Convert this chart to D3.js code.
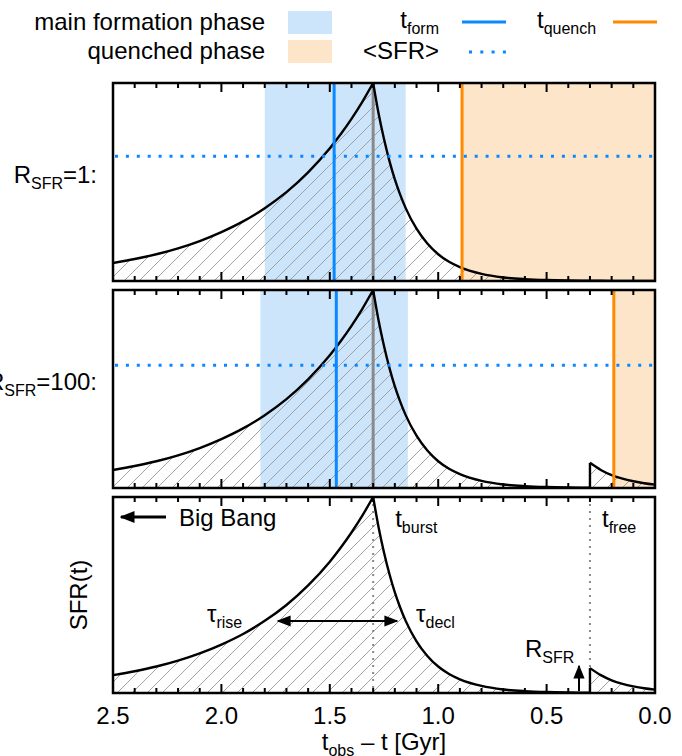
<!DOCTYPE html>
<html>
<head>
<meta charset="utf-8">
<script src="https://cdn.jsdelivr.net/npm/d3@7"></script>
<style>
  html, body { margin: 0; padding: 0; background: #fff; }
  svg { display: block; font-family: "Liberation Sans", Arial, Helvetica, sans-serif; }
</style>
</head>
<body>
<svg id="chart" width="682" height="756"></svg>
<script>
// ---------------- data ----------------
// x axis: lookback time t_obs - t [Gyr], reversed
const xTicksMajor = [2.5, 2.0, 1.5, 1.0, 0.5, 0.0];
const xTickLabels = ["2.5", "2.0", "1.5", "1.0", "0.5", "0.0"];
const xTicksMinor = d3.range(0, 26).map(i => +(i * 0.1).toFixed(1));

// burst epoch and tfree
const tBurst = 1.3;
const tFree = 0.3;

// rising part of SFR(t) (normalised to peak = 1)
const riseLookback = [2.5, 2.4, 2.3, 2.2, 2.1, 2.0, 1.9, 1.8, 1.7, 1.6, 1.5, 1.45, 1.4, 1.35, 1.3];
const riseSFR      = [0.091, 0.111, 0.135, 0.165, 0.202, 0.247, 0.301, 0.368, 0.449, 0.549, 0.670, 0.741, 0.819, 0.905, 1.0];

// declining part of SFR(t)
const declLookback = [1.3, 1.275, 1.25, 1.225, 1.2, 1.175, 1.15, 1.1, 1.05, 1.0, 0.95, 0.9, 0.8, 0.7, 0.6, 0.5, 0.4, 0.3, 0.2, 0.1, 0.0];
const declSFR      = [1.0, 0.846, 0.717, 0.607, 0.513, 0.435, 0.368, 0.264, 0.189, 0.135, 0.097, 0.070, 0.036, 0.018, 0.0094, 0.0048, 0.0025, 0.0013, 0.0007, 0.0003, 0.0002];

// renewed star formation after tfree (R_SFR = 100)
const freeLookback = [0.3, 0.25, 0.2, 0.15, 0.1, 0.05, 0.0];
const freeSFR      = [0.127, 0.091, 0.065, 0.047, 0.034, 0.024, 0.017];

// per-panel quantities
const panelLabels  = ["1", "100"];
const panelRsfr    = [1, 100, 100];
const tForm        = [1.48, 1.47];
const mainPhase    = [[1.80, 1.15], [1.82, 1.14]];
const tQuench      = [0.89, 0.19];
const meanSFR      = [0.63, 0.62];

// ---------------- layout ----------------
const svg = d3.select("#chart");
const X0 = 113, X1 = 655;
const panels = [{ top: 83, bottom: 281 }, { top: 290, bottom: 488 }, { top: 497, bottom: 693 }];

const x = d3.scaleLinear().domain([2.5, 0]).range([X0, X1]);

const BLUE = "#0a88ff", LBLUE = "#cce5fb", ORANGE = "#ff8a00", LORANGE = "#fde5c9";
const FONT = 24, SUB = 16;

// hatch pattern
const defs = svg.append("defs");
const pat = defs.append("pattern").attr("id", "hatch").attr("patternUnits", "userSpaceOnUse")
  .attr("width", 15).attr("height", 15);
pat.append("path").attr("d", "M-4,4 L4,-4 M0,15 L15,0 M11,19 L19,11")
  .attr("stroke", "#9a9a9a").attr("stroke-width", 0.9).attr("fill", "none");

// arrow markers
function marker(id, size) {
  defs.append("marker").attr("id", id).attr("viewBox", "0 0 10 10")
    .attr("refX", 9).attr("refY", 5).attr("markerWidth", size).attr("markerHeight", size)
    .attr("markerUnits", "strokeWidth").attr("orient", "auto-start-reverse")
    .append("path").attr("d", "M0,1 L10,5 L0,9 Z").attr("fill", "#000");
}
marker("arrowBig", 5);
marker("arrowMid", 7);

function subText(g, xpos, ypos, main, sub, anchor, rest) {
  const t = g.append("text").attr("x", xpos).attr("y", ypos).attr("font-size", FONT)
    .attr("text-anchor", anchor || "start").attr("fill", "#000");
  t.append("tspan").text(main);
  t.append("tspan").attr("font-size", SUB).attr("dy", 6).text(sub);
  if (rest) t.append("tspan").attr("dy", -6).text(rest);
  return t;
}

panels.forEach((p, i) => {
  const y = d3.scaleLinear().domain([0, 1]).range([p.bottom, p.top]);
  const g = svg.append("g");
  const clipId = "clip" + i;
  defs.append("clipPath").attr("id", clipId).append("rect")
    .attr("x", X0).attr("y", p.top).attr("width", X1 - X0).attr("height", p.bottom - p.top);
  const inner = g.append("g").attr("clip-path", `url(#${clipId})`);

  // spans
  if (i < 2) {
    inner.append("rect").attr("x", x(mainPhase[i][0])).attr("y", p.top)
      .attr("width", x(mainPhase[i][1]) - x(mainPhase[i][0])).attr("height", p.bottom - p.top)
      .attr("fill", LBLUE);
    inner.append("rect").attr("x", x(tQuench[i])).attr("y", p.top)
      .attr("width", x(0) - x(tQuench[i])).attr("height", p.bottom - p.top)
      .attr("fill", LORANGE);
  }

  // curve segments
  const R = panelRsfr[i];
  const rise = riseLookback.map((d, k) => [d, riseSFR[k]]);
  let decl, free = null;
  if (R === 1) {
    decl = declLookback.map((d, k) => [d, declSFR[k]]);
  } else {
    decl = declLookback.map((d, k) => [d, declSFR[k]]).filter(d => d[0] >= tFree);
    free = freeLookback.map((d, k) => [d, freeSFR[k]]);
  }
  const area = d3.area().x(d => x(d[0])).y0(p.bottom).y1(d => y(d[1])).curve(d3.curveMonotoneX);
  const line = d3.line().x(d => x(d[0])).y(d => y(d[1])).curve(d3.curveMonotoneX);
  const segs = [rise.slice().reverse(), decl.slice().reverse()];
  if (free) segs.push(free.slice().reverse());
  segs.forEach(s => inner.append("path").attr("d", area(s)).attr("fill", "url(#hatch)"));

  // burst line (panels 1,2) / dotted markers (panel 3)
  if (i < 2) {
    inner.append("line").attr("x1", x(tBurst)).attr("x2", x(tBurst)).attr("y1", p.top).attr("y2", p.bottom)
      .attr("stroke", "#8a8a8a").attr("stroke-width", 3);
  } else {
    [tBurst, tFree].forEach(v => inner.append("line").attr("x1", x(v)).attr("x2", x(v))
      .attr("y1", p.top).attr("y2", p.bottom)
      .attr("stroke", "#8a8a8a").attr("stroke-width", 2).attr("stroke-dasharray", "2,5"));
  }

  // SFR curve lines
  segs.forEach(s => inner.append("path").attr("d", line(s)).attr("fill", "none")
    .attr("stroke", "#000").attr("stroke-width", 2.4));
  if (free) {
    inner.append("line").attr("x1", x(tFree)).attr("x2", x(tFree))
      .attr("y1", y(decl[decl.length - 1][1])).attr("y2", y(freeSFR[0]))
      .attr("stroke", "#000").attr("stroke-width", 2.4);
  }

  if (i < 2) {
    inner.append("line").attr("x1", x(tForm[i])).attr("x2", x(tForm[i])).attr("y1", p.top).attr("y2", p.bottom)
      .attr("stroke", BLUE).attr("stroke-width", 3);
    inner.append("line").attr("x1", x(tQuench[i])).attr("x2", x(tQuench[i])).attr("y1", p.top).attr("y2", p.bottom)
      .attr("stroke", ORANGE).attr("stroke-width", 3);
    inner.append("line").attr("x1", X0 + 2).attr("x2", X1).attr("y1", y(meanSFR[i])).attr("y2", y(meanSFR[i]))
      .attr("stroke", BLUE).attr("stroke-width", 3.2).attr("stroke-dasharray", "3,7.9");
  }

  // ticks (top and bottom, inward)
  const tg = g.append("g").attr("stroke", "#000").attr("stroke-width", 2);
  xTicksMinor.forEach(v => {
    const major = xTicksMajor.some(m => Math.abs(m - v) < 1e-6);
    const L = major ? 9 : 5;
    tg.append("line").attr("x1", x(v)).attr("x2", x(v)).attr("y1", p.bottom).attr("y2", p.bottom - L);
    tg.append("line").attr("x1", x(v)).attr("x2", x(v)).attr("y1", p.top).attr("y2", p.top + L);
  });

  // frame
  g.append("rect").attr("x", X0).attr("y", p.top).attr("width", X1 - X0).attr("height", p.bottom - p.top)
    .attr("fill", "none").attr("stroke", "#000").attr("stroke-width", 2.5);

  // panel labels
  if (i < 2) {
    subText(svg, 97, (p.top + p.bottom) / 2 + 1, "R", "SFR", "end", "=" + panelLabels[i] + ":");
  }
});

// x axis tick labels (bottom panel)
const pb = panels[2];
xTicksMajor.forEach((v, k) => {
  svg.append("text").attr("x", x(v)).attr("y", 724).attr("text-anchor", "middle")
    .attr("font-size", FONT).text(xTickLabels[k]);
});
// x axis title
{
  const t = svg.append("text").attr("x", x(1.25)).attr("y", 750).attr("text-anchor", "middle").attr("font-size", FONT);
  t.append("tspan").text("t");
  t.append("tspan").attr("font-size", SUB).attr("dy", 6).text("obs");
  t.append("tspan").attr("dy", -6).text(" \u2013 t [Gyr]");
}
// y axis title
svg.append("text").attr("transform", `translate(87,${(pb.top + pb.bottom) / 2}) rotate(-90)`)
  .attr("text-anchor", "middle").attr("font-size", FONT).text("SFR(t)");

// annotations in bottom panel
svg.append("line").attr("x1", 166).attr("x2", 121).attr("y1", 517).attr("y2", 517)
  .attr("stroke", "#000").attr("stroke-width", 3).attr("marker-end", "url(#arrowBig)");
svg.append("text").attr("x", 179).attr("y", 526).attr("font-size", FONT).text("Big Bang");
subText(svg, x(tBurst) + 22, 527, "t", "burst");
subText(svg, x(tFree) + 12, 527, "t", "free");
subText(svg, 207, 622, "\u03c4", "rise");
subText(svg, 416, 622, "\u03c4", "decl");
subText(svg, 525, 657, "R", "SFR");
svg.append("line").attr("x1", 278).attr("x2", 397).attr("y1", 621).attr("y2", 621)
  .attr("stroke", "#000").attr("stroke-width", 2)
  .attr("marker-start", "url(#arrowMid)").attr("marker-end", "url(#arrowMid)");
svg.append("line").attr("x1", 579).attr("x2", 579).attr("y1", 691).attr("y2", 666)
  .attr("stroke", "#000").attr("stroke-width", 2).attr("marker-end", "url(#arrowMid)");

// ---------------- legend ----------------
const lg = svg.append("g");
lg.append("text").attr("x", 265).attr("y", 30).attr("text-anchor", "end").attr("font-size", FONT).text("main formation phase");
lg.append("text").attr("x", 265).attr("y", 59).attr("text-anchor", "end").attr("font-size", FONT).text("quenched phase");
lg.append("rect").attr("x", 288).attr("y", 11).attr("width", 44).attr("height", 23).attr("fill", LBLUE);
lg.append("rect").attr("x", 288).attr("y", 40).attr("width", 44).attr("height", 23).attr("fill", LORANGE);
subText(lg, 439, 28, "t", "form", "end");
lg.append("line").attr("x1", 462).attr("x2", 506).attr("y1", 22).attr("y2", 22).attr("stroke", BLUE).attr("stroke-width", 3);
lg.append("text").attr("x", 439).attr("y", 59).attr("text-anchor", "end").attr("font-size", FONT).text("<SFR>");
lg.append("line").attr("x1", 469).attr("x2", 506).attr("y1", 52).attr("y2", 52).attr("stroke", BLUE)
  .attr("stroke-width", 3.2).attr("stroke-dasharray", "3,8.3");
subText(lg, 537, 28, "t", "quench");
lg.append("line").attr("x1", 613).attr("x2", 657).attr("y1", 22).attr("y2", 22).attr("stroke", ORANGE).attr("stroke-width", 3);
</script>
</body>
</html>
